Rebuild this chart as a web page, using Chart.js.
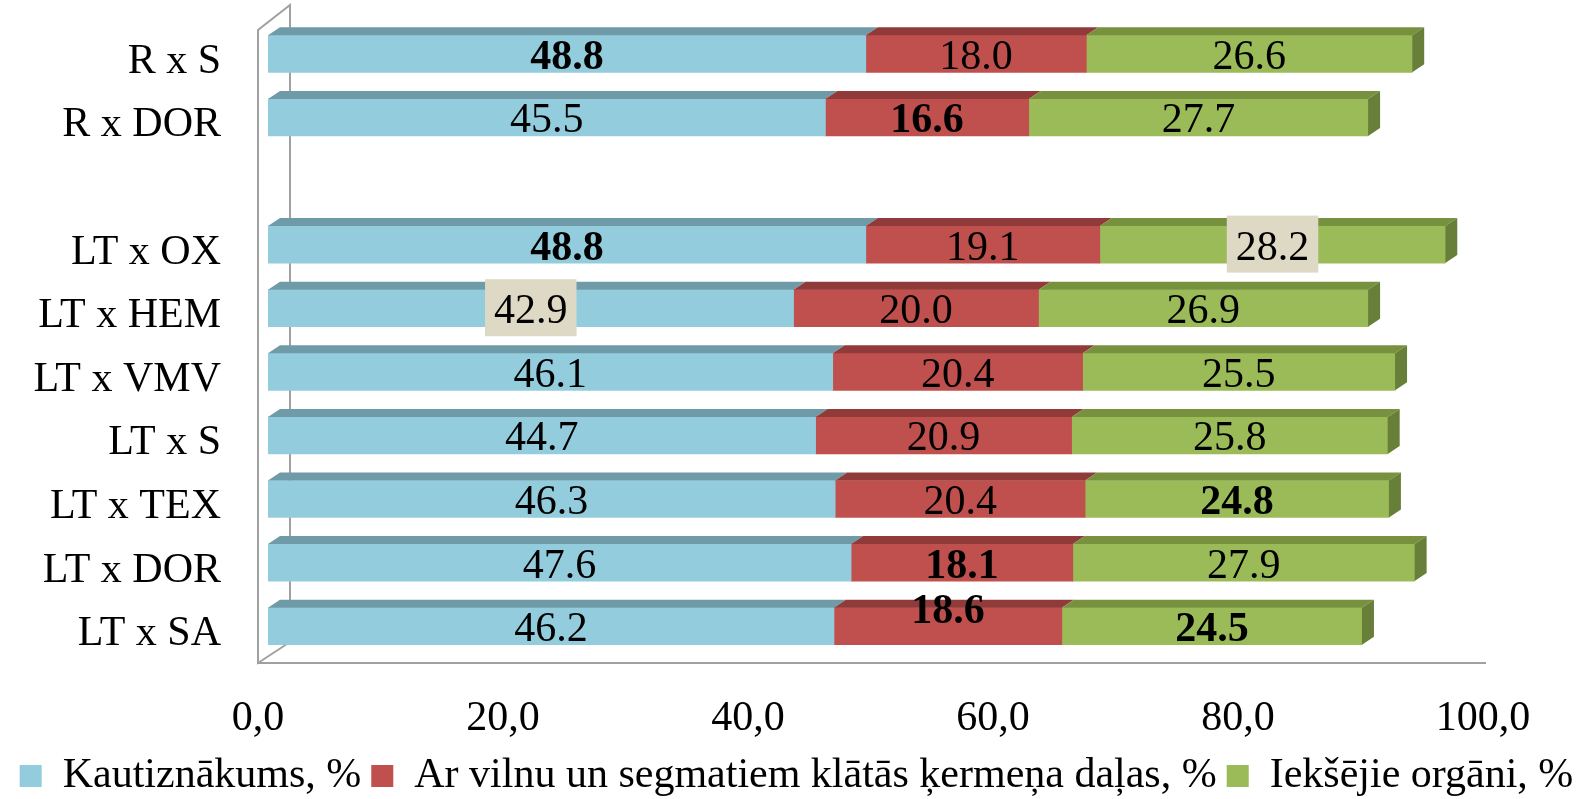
<!DOCTYPE html>
<html>
<head>
<meta charset="utf-8">
<script src="https://cdn.jsdelivr.net/npm/chart.js@4.4.0/dist/chart.umd.min.js"></script>
<style>
  html, body { margin: 0; padding: 0; background: #fff; }
  #wrap { width: 1593px; height: 799px; }
</style>
</head>
<body>
<div id="wrap"><canvas id="chart"></canvas></div>
<script>
const categories = ['R x S', 'R x DOR', '', 'LT x OX', 'LT x HEM', 'LT x VMV', 'LT x S', 'LT x TEX', 'LT x DOR', 'LT x SA'];
const kautiznakums = [48.8, 45.5, null, 48.8, 42.9, 46.1, 44.7, 46.3, 47.6, 46.2];
const vilna = [18.0, 16.6, null, 19.1, 20.0, 20.4, 20.9, 20.4, 18.1, 18.6];
const organi = [26.6, 27.7, null, 28.2, 26.9, 25.5, 25.8, 24.8, 27.9, 24.5];
const xTicks = [0, 20, 40, 60, 80, 100];

// which labels are bold / boxed (category names per series)
const boldLabels = [['R x S', 'LT x OX'], ['R x DOR', 'LT x DOR', 'LT x SA'], ['LT x TEX', 'LT x SA']];
const boxedLabels = [['LT x HEM'], [], ['LT x OX']];

const frontColors = ['#93CDDD', '#C0504D', '#9BBB59'];
const topColors = ['#6F9AA7', '#903B39', '#77913F'];
const sideColor = '#677F38';
const FONT = 'Liberation Serif, Times New Roman, serif';

const depthX = 12, depthY = -8;

const box3d = {
    id: 'box3d',
    beforeDatasetsDraw(chart) {
        const {ctx, chartArea, scales: {x}} = chart;
        const x0 = x.getPixelForValue(0) - 10;
        const x1 = x.getPixelForValue(100) - 7;
        const yt = chartArea.top + 8;
        const yb = chartArea.bottom + 5;
        ctx.save();
        ctx.strokeStyle = '#a0a0a0';
        ctx.lineWidth = 2;
        ctx.beginPath();
        ctx.moveTo(x0 + 32, yb - 21);
        ctx.lineTo(x0 + 32, yt - 25);
        ctx.lineTo(x0, yt);
        ctx.lineTo(x0, yb);
        ctx.lineTo(x0 + 32, yb - 21);
        ctx.moveTo(x0, yb);
        ctx.lineTo(x1, yb);
        ctx.stroke();
        ctx.restore();
    },
    afterDatasetsDraw(chart) {
        const {ctx} = chart;
        const n = chart.data.datasets.length;
        ctx.save();
        chart.data.datasets.forEach((ds, i) => {
            chart.getDatasetMeta(i).data.forEach((bar, j) => {
                if (ds.data[j] == null) return;
                const p = bar.getProps(['x', 'y', 'base', 'height'], true);
                const top = p.y - p.height / 2, bottom = p.y + p.height / 2;
                const l = Math.min(p.base, p.x), r = Math.max(p.base, p.x);
                ctx.fillStyle = topColors[i];
                ctx.beginPath();
                ctx.moveTo(l, top);
                ctx.lineTo(l + depthX, top + depthY);
                ctx.lineTo(r + depthX, top + depthY);
                ctx.lineTo(r, top);
                ctx.closePath();
                ctx.fill();
                if (i === n - 1) {
                    ctx.fillStyle = sideColor;
                    ctx.beginPath();
                    ctx.moveTo(r, top);
                    ctx.lineTo(r + depthX, top + depthY);
                    ctx.lineTo(r + depthX, bottom + depthY);
                    ctx.lineTo(r, bottom);
                    ctx.closePath();
                    ctx.fill();
                }
            });
        });
        // value labels
        ctx.textAlign = 'center';
        ctx.textBaseline = 'alphabetic';
        chart.data.datasets.forEach((ds, i) => {
            chart.getDatasetMeta(i).data.forEach((bar, j) => {
                const v = ds.data[j];
                if (v == null) return;
                const p = bar.getProps(['x', 'y', 'base'], true);
                const cat = categories[j];
                const bold = boldLabels[i].includes(cat);
                const text = v.toFixed(1);
                const cx = (p.x + p.base) / 2;
                let base = p.y + 15;
                if (cat === 'LT x SA' && i === 1) base = p.y - 3;
                ctx.font = (bold ? 'bold ' : '') + '42px ' + FONT;
                if (boxedLabels[i].includes(cat)) {
                    const w = ctx.measureText(text).width;
                    ctx.fillStyle = '#DDD9C4';
                    ctx.fillRect(cx - w / 2 - 9, base - 44, w + 18, 57);
                }
                ctx.fillStyle = '#000';
                ctx.fillText(text, cx, base);
            });
        });
        ctx.restore();
    }
};

const data = {
    labels: categories,
    datasets: [
        { label: 'Kautiznākums, %', data: kautiznakums, backgroundColor: frontColors[0] },
        { label: 'Ar vilnu un segmatiem klātās ķermeņa daļas, %', data: vilna, backgroundColor: frontColors[1] },
        { label: 'Iekšējie orgāni, %', data: organi, backgroundColor: frontColors[2] }
    ]
};

const config = {
    type: 'bar',
    data: data,
    plugins: [box3d],
    options: {
        indexAxis: 'y',
        responsive: true,
        maintainAspectRatio: false,
        animation: false,
        datasets: {
            bar: { barThickness: 37, borderWidth: 0 }
        },
        layout: { padding: { top: 22, left: 0, right: 0, bottom: 0 } },
        scales: {
            x: {
                stacked: true,
                min: 0,
                max: 108.16,
                afterBuildTicks(scale) {
                    scale.ticks = xTicks.map(v => ({ value: v }));
                },
                afterFit(scale) {
                    scale.height = 87;
                    scale.paddingLeft = 0;
                    scale.paddingRight = 0;
                },
                grid: { display: false, drawTicks: false },
                border: { display: false },
                ticks: {
                    padding: 36,
                    labelOffset: -10,
                    color: '#000',
                    font: { family: FONT, size: 42 },
                    callback: v => v.toFixed(1).replace('.', ',')
                }
            },
            y: {
                stacked: true,
                afterFit(scale) {
                    scale.width = 268;
                    scale.paddingTop = 0;
                    scale.paddingBottom = 0;
                },
                grid: { display: false, drawTicks: false },
                border: { display: false },
                ticks: {
                    padding: 47,
                    labelOffset: 8,
                    color: '#000',
                    font: { family: FONT, size: 42 }
                }
            }
        },
        plugins: {
            tooltip: { enabled: false },
            legend: {
                position: 'bottom',
                maxHeight: 54,
                labels: {
                    boxWidth: 22,
                    boxHeight: 22,
                    padding: 10,
                    color: '#000',
                    font: { family: FONT, size: 42 }
                }
            }
        }
    }
};

var myChart = new Chart(document.getElementById('chart'), config);
</script>
</body>
</html>
